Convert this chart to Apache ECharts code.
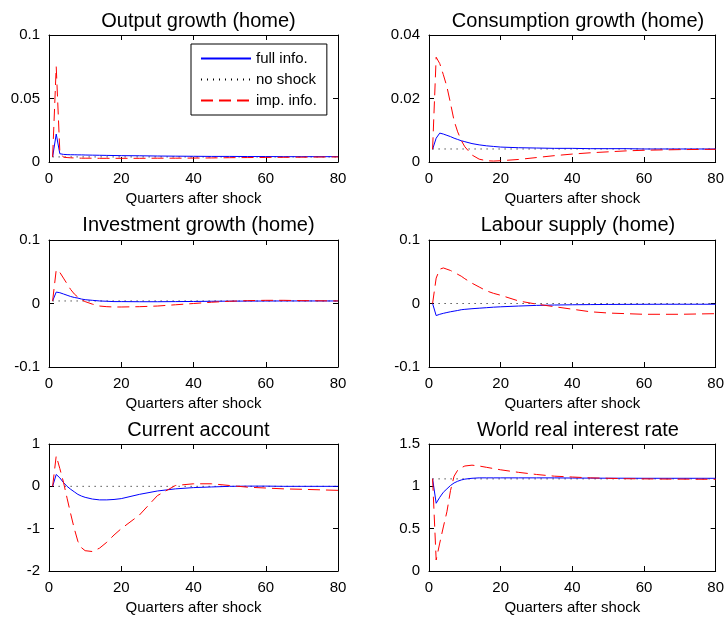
<!DOCTYPE html>
<html>
<head>
<meta charset="utf-8">
<script src="https://cdn.jsdelivr.net/npm/echarts@6/dist/echarts.min.js"></script>
<style>
  html, body { margin: 0; padding: 0; background: #fff; }
  #chart { width: 727px; height: 619px; }
</style>
</head>
<body>
<div id="chart"></div>
<script>
  var quarters = [1, 2, 3, 4, 5, 6, 7, 8, 9, 10, 12, 14, 16, 18, 20, 25, 30, 35, 40, 45, 50, 55, 60, 65, 70, 80];
  var xTicks = [0, 20, 40, 60, 80];

  var outputFull = [0.004, 0.022, 0.0065, 0.006, 0.0058, 0.0057, 0.0057, 0.0056, 0.0056, 0.0055, 0.0054, 0.0053, 0.0052, 0.0051, 0.005, 0.0049, 0.0047, 0.0046, 0.0045, 0.0044, 0.0044, 0.0043, 0.0043, 0.0042, 0.0042, 0.0042];
  var outputImp = [0.004, 0.075, 0.008, 0.0038, 0.0035, 0.0033, 0.0032, 0.0031, 0.003, 0.003, 0.003, 0.0029, 0.0029, 0.0029, 0.0029, 0.0029, 0.003, 0.003, 0.0031, 0.0032, 0.0034, 0.0035, 0.0036, 0.0037, 0.0038, 0.004];
  var outputNone = 0.004;

  var consFull = [0.004, 0.0075, 0.0091, 0.0088, 0.0084, 0.008, 0.0075, 0.0071, 0.0067, 0.0064, 0.0058, 0.0054, 0.0051, 0.0049, 0.0047, 0.0045, 0.0044, 0.0043, 0.0043, 0.0042, 0.0042, 0.0042, 0.0041, 0.0041, 0.0041, 0.0041];
  var consImp = [0.004, 0.033, 0.031, 0.0275, 0.0237, 0.0185, 0.013, 0.0095, 0.0068, 0.0048, 0.0022, 0.0009, 0.0004, 0.0003, 0.0004, 0.0008, 0.0014, 0.002, 0.0025, 0.0029, 0.0032, 0.0035, 0.0037, 0.0038, 0.0039, 0.004];
  var consNone = 0.0041;

  var invFull = [0.004, 0.018, 0.017, 0.015, 0.013, 0.011, 0.0095, 0.0085, 0.007, 0.006, 0.005, 0.004, 0.0035, 0.003, 0.003, 0.0028, 0.0028, 0.003, 0.0032, 0.0035, 0.0037, 0.0038, 0.0039, 0.004, 0.004, 0.004];
  var invImp = [0.004, 0.053, 0.049, 0.04, 0.031, 0.022, 0.015, 0.01, 0.006, 0.003, -0.001, -0.004, -0.005, -0.0055, -0.0055, -0.005, -0.004, -0.002, 0, 0.002, 0.0035, 0.0045, 0.005, 0.005, 0.0045, 0.004];
  var invNone = 0.004;

  var labourFull = [0, -0.019, -0.017, -0.0155, -0.0142, -0.013, -0.012, -0.011, -0.0098, -0.0092, -0.0082, -0.0074, -0.0066, -0.0058, -0.0052, -0.004, -0.003, -0.0024, -0.002, -0.0017, -0.0015, -0.0014, -0.0013, -0.0012, -0.0012, -0.0012];
  var labourImp = [0, 0.04, 0.054, 0.056, 0.054, 0.052, 0.049, 0.046, 0.043, 0.039, 0.032, 0.026, 0.02, 0.016, 0.013, 0.004, -0.001, -0.005, -0.009, -0.013, -0.015, -0.016, -0.017, -0.017, -0.017, -0.016];
  var labourNone = 0;

  var caFull = [0, 0.28, 0.2, 0.09, 0, -0.07, -0.13, -0.19, -0.23, -0.26, -0.3, -0.32, -0.32, -0.31, -0.29, -0.19, -0.11, -0.06, -0.03, -0.015, 0, 0.005, 0.005, 0, 0, 0];
  var caImp = [0, 0.72, 0.42, 0.1, -0.28, -0.65, -1.0, -1.3, -1.45, -1.52, -1.54, -1.46, -1.32, -1.15, -1.0, -0.68, -0.22, 0.02, 0.06, 0.06, 0.02, -0.02, -0.04, -0.06, -0.07, -0.095];
  var caNone = 0;

  var rateFull = [1.09, 0.8, 0.87, 0.93, 0.97, 1.01, 1.04, 1.06, 1.075, 1.085, 1.095, 1.1, 1.1, 1.1, 1.1, 1.1, 1.1, 1.1, 1.098, 1.097, 1.096, 1.096, 1.095, 1.095, 1.095, 1.095];
  var rateImp = [1.09, 0.13, 0.33, 0.52, 0.7, 0.95, 1.12, 1.19, 1.22, 1.24, 1.25, 1.24, 1.225, 1.21, 1.195, 1.165, 1.14, 1.12, 1.11, 1.1, 1.095, 1.09, 1.088, 1.086, 1.085, 1.083];
  var rateNone = 1.088;

  var panels = [
    {title: 'Output growth (home)', min: 0, max: 0.1, interval: 0.05, full: outputFull, imp: outputImp, none: outputNone},
    {title: 'Consumption growth (home)', min: 0, max: 0.04, interval: 0.02, full: consFull, imp: consImp, none: consNone},
    {title: 'Investment growth (home)', min: -0.1, max: 0.1, interval: 0.1, full: invFull, imp: invImp, none: invNone},
    {title: 'Labour supply (home)', min: -0.1, max: 0.1, interval: 0.1, full: labourFull, imp: labourImp, none: labourNone},
    {title: 'Current account', min: -2, max: 1, interval: 1, full: caFull, imp: caImp, none: caNone},
    {title: 'World real interest rate', min: 0, max: 1.5, interval: 0.5, full: rateFull, imp: rateImp, none: rateNone}
  ];

  var font = "'Liberation Sans', Arial, sans-serif";
  var colLeft = [49, 429];
  var colWidth = [289, 288];
  var rowTop = [35, 240, 444];
  var titleTop = [6, 210, 415];
  var boxHeight = 127;

  function pairs(vals) {
    return quarters.map(function (q, i) { return [q, vals[i]]; });
  }

  var option = {
    animation: false,
    backgroundColor: '#fff',
    textStyle: {fontFamily: font},
    title: [],
    grid: [],
    xAxis: [],
    yAxis: [],
    series: [],
    legend: {
      data: ['full info.', 'no shock', 'imp. info.'],
      orient: 'vertical',
      left: 191,
      top: 44,
      itemWidth: 50,
      itemHeight: 14,
      itemGap: 6,
      padding: [7, 10, 7, 9],
      borderColor: '#000',
      borderWidth: 1,
      borderRadius: 0,
      backgroundColor: '#fff',
      selectedMode: false,
      // hide the circle that line series put in the middle of the legend line
      itemStyle: {opacity: 0, color: 'transparent', borderWidth: 0},
      textStyle: {fontSize: 15, color: '#000', fontFamily: font}
    }
  };

  panels.forEach(function (p, k) {
    var col = k % 2, row = Math.floor(k / 2);
    option.title.push({
      text: p.title,
      left: colLeft[col] + colWidth[col] / 2,
      top: titleTop[row],
      textAlign: 'center',
      textStyle: {fontSize: 20, fontWeight: 'normal', color: '#000', fontFamily: font}
    });
    option.grid.push({left: colLeft[col], top: rowTop[row], width: colWidth[col], height: boxHeight});

    var axLine = {show: true, onZero: false, lineStyle: {color: '#000', width: 1}};
    var tick = {show: true, inside: true, length: 5, lineStyle: {color: '#000'}};
    // bottom x axis with labels
    option.xAxis.push({
      type: 'value', gridIndex: k, min: 0, max: 80, interval: 20, position: 'bottom',
      name: 'Quarters after shock', nameLocation: 'middle', nameGap: 29,
      nameTextStyle: {fontSize: 15, color: '#000', fontFamily: font},
      axisLine: axLine, axisTick: tick, splitLine: {show: false},
      axisLabel: {fontSize: 15, color: '#000', margin: 9, fontFamily: font}
    });
    // top x axis only for the box and ticks
    option.xAxis.push({
      type: 'value', gridIndex: k, min: 0, max: 80, interval: 20, position: 'top',
      axisLine: axLine, axisTick: tick, splitLine: {show: false}, axisLabel: {show: false}
    });
    option.yAxis.push({
      type: 'value', gridIndex: k, min: p.min, max: p.max, interval: p.interval, position: 'left',
      axisLine: axLine, axisTick: tick, splitLine: {show: false},
      axisLabel: {fontSize: 15, color: '#000', margin: 9, fontFamily: font}
    });
    option.yAxis.push({
      type: 'value', gridIndex: k, min: p.min, max: p.max, interval: p.interval, position: 'right',
      axisLine: axLine, axisTick: tick, splitLine: {show: false}, axisLabel: {show: false}
    });

    var xi = k * 2, yi = k * 2;
    option.series.push({
      name: 'full info.', type: 'line', xAxisIndex: xi, yAxisIndex: yi,
      data: pairs(p.full), symbol: 'none', z: 3,
      lineStyle: {color: '#0000ff', width: 1}, itemStyle: {color: '#0000ff'}
    });
    option.series.push({
      name: 'no shock', type: 'line', xAxisIndex: xi, yAxisIndex: yi,
      data: [[1, p.none], [80, p.none]], symbol: 'none', z: 2,
      lineStyle: {color: '#000', width: 1, type: [1, 5]}, itemStyle: {color: '#000'}
    });
    option.series.push({
      name: 'imp. info.', type: 'line', xAxisIndex: xi, yAxisIndex: yi,
      data: pairs(p.imp), symbol: 'none', z: 4,
      lineStyle: {color: '#ff0000', width: 1, type: [12, 6]}, itemStyle: {color: '#ff0000'}
    });
  });

  var chart = echarts.init(document.getElementById('chart'));
  chart.setOption(option);
</script>
</body>
</html>
